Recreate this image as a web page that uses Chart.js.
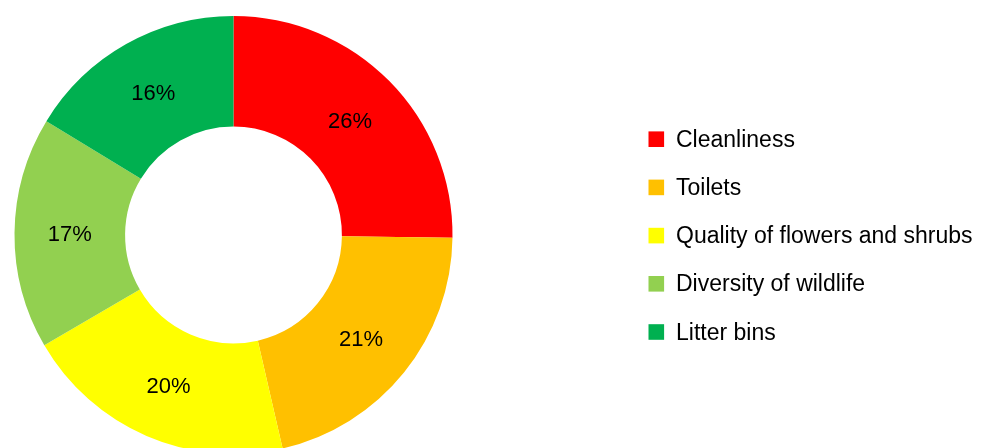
<!DOCTYPE html>
<html>
<head>
<meta charset="utf-8">
<script src="https://cdn.jsdelivr.net/npm/chart.js@4"></script>
<style>
  html, body { margin: 0; padding: 0; background: #fff; overflow: hidden; }
  #wrap { width: 995px; height: 448px; overflow: hidden; position: relative; }
</style>
</head>
<body>
<div id="wrap"><canvas id="chart" width="995" height="456"></canvas></div>
<script>
const categories = ["Cleanliness", "Toilets", "Quality of flowers and shrubs", "Diversity of wildlife", "Litter bins"];
// slice sizes (percent of the whole)
const shares = [25.2, 21.2, 20.2, 17.1, 16.3];
// percentages as printed on the slices
const shareLabels = ["26%", "21%", "20%", "17%", "16%"];
const colours = ["#FF0000", "#FFC000", "#FFFF00", "#92D050", "#00B050"];

const FONT = "'Liberation Sans', Arial, sans-serif";

// percentage labels in the middle of each ring segment
const sliceLabels = {
    id: "sliceLabels",
    afterDatasetsDraw(chart) {
        const ctx = chart.ctx;
        const meta = chart.getDatasetMeta(0);
        ctx.save();
        ctx.font = "22px " + FONT;
        ctx.fillStyle = "#000";
        ctx.textAlign = "center";
        ctx.textBaseline = "alphabetic";
        meta.data.forEach((arc, i) => {
            const p = arc.tooltipPosition();
            ctx.fillText(shareLabels[i], p.x, p.y + 7.9);
        });
        ctx.restore();
    }
};

// legend on the right, drawn by hand for exact placement
const sideLegend = {
    id: "sideLegend",
    afterDraw(chart) {
        const ctx = chart.ctx;
        ctx.save();
        ctx.font = "23px " + FONT;
        ctx.textBaseline = "alphabetic";
        categories.forEach((name, i) => {
            const y = 139.2 + i * 48.2;
            ctx.fillStyle = colours[i];
            ctx.fillRect(648.5, y - 7.8, 15.6, 15.6);
            ctx.fillStyle = "#000";
            ctx.fillText(name, 676, y + 7.5);
        });
        ctx.restore();
    }
};

new Chart(document.getElementById("chart").getContext("2d"), {
    type: "doughnut",
    data: {
        labels: categories,
        datasets: [{
            data: shares,
            backgroundColor: colours,
            borderWidth: 0,
            hoverOffset: 0,
            offset: 0,
        }],
    },
    options: {
        responsive: false,
        animation: false,
        cutout: "49.5%",
        layout: {
            padding: { left: 14.5, top: 16, right: 542.5, bottom: 2 }
        },
        plugins: {
            legend: { display: false },
            tooltip: { enabled: false },
        },
    },
    plugins: [sliceLabels, sideLegend],
});
</script>
</body>
</html>
